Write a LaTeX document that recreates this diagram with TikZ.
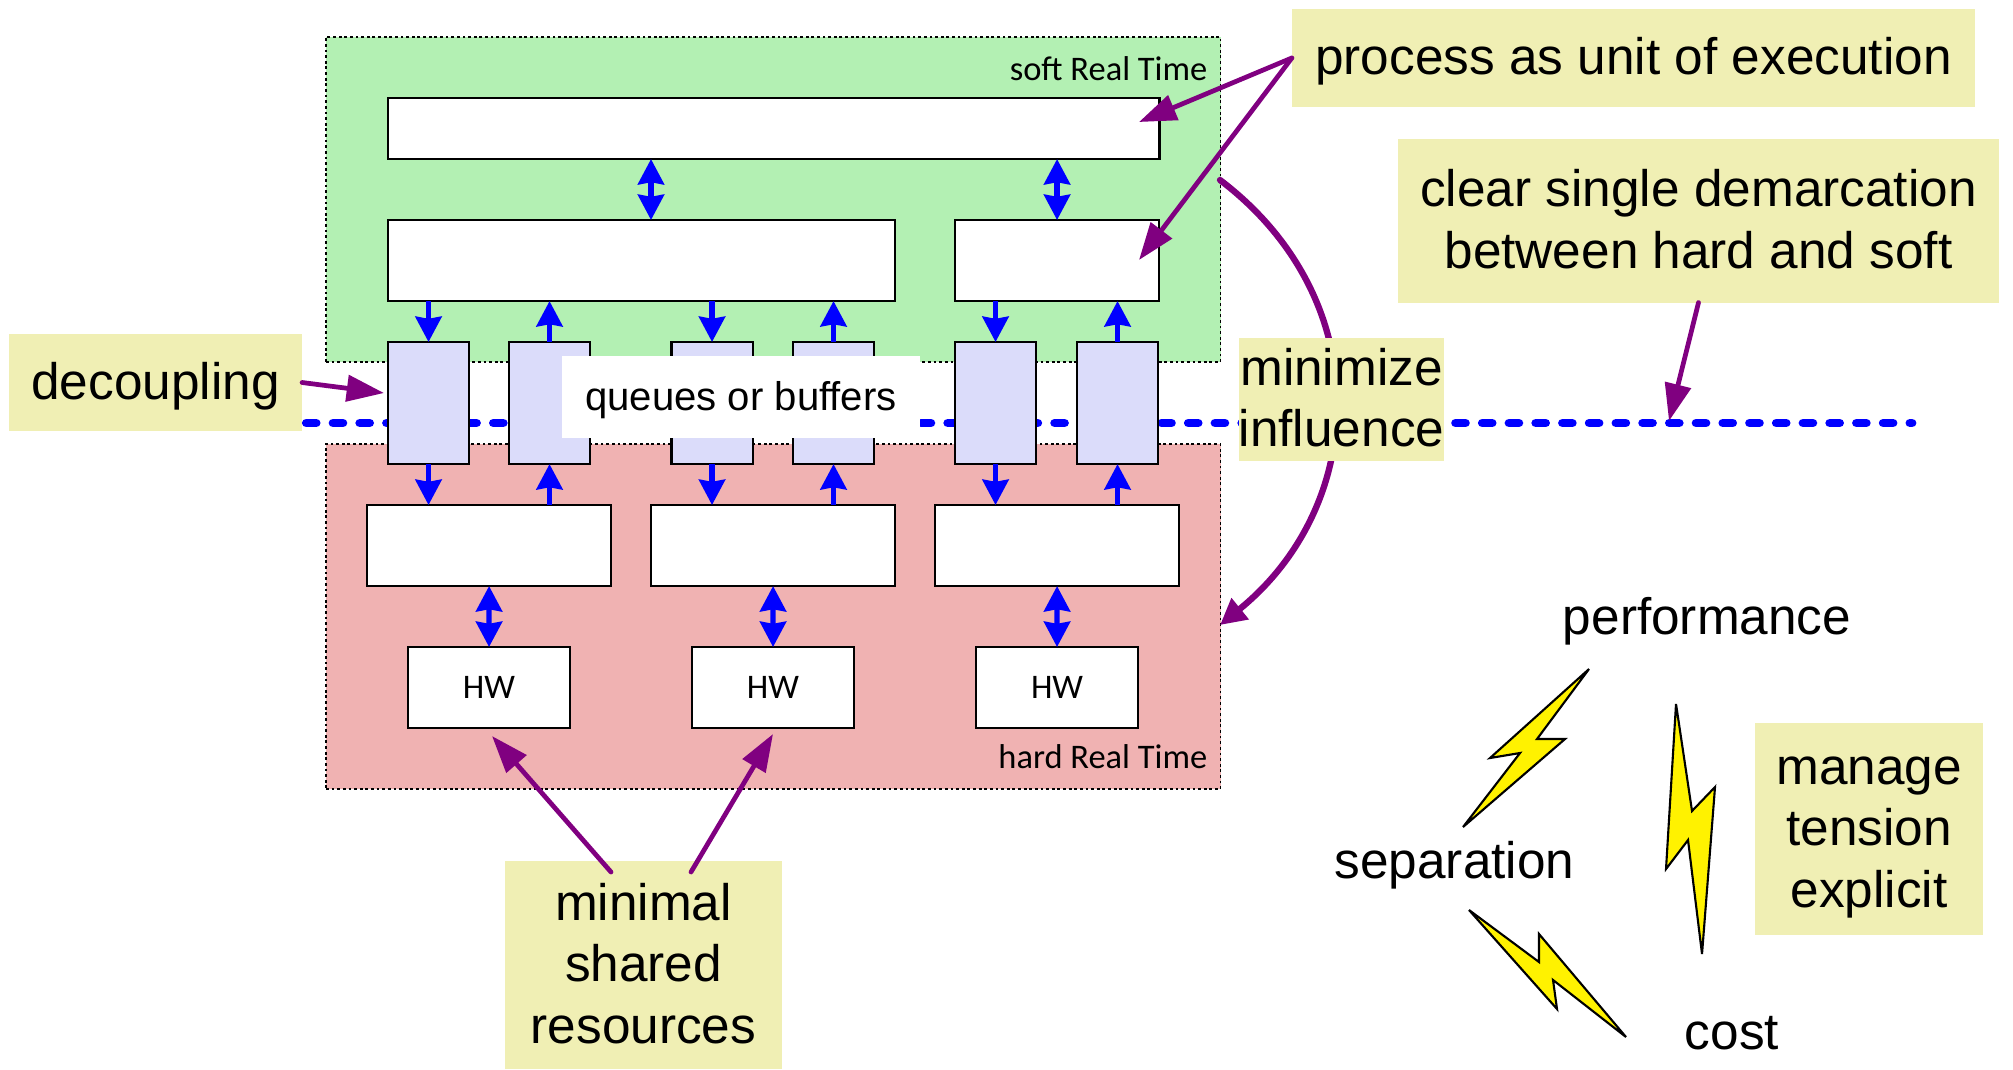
\documentclass[tikz,border=0pt]{standalone}
\usepackage{fontspec}
\setmainfont{Liberation Sans}
\newfontfamily\boxfont{Carlito}
\usetikzlibrary{arrows.meta}

\definecolor{softgreen}{HTML}{B3F0B3}
\definecolor{hardred}{HTML}{F0B2B2}
\definecolor{queueblue}{HTML}{DBDCFA}
\definecolor{notekhaki}{HTML}{F0EFB4}
\definecolor{notepurple}{HTML}{800080}

\newcommand{\notestrut}{\rule[-4pt]{0pt}{17.5pt}}

\tikzset{
    zone/.style={draw=black, line width=0.45pt, dash pattern=on 0.8pt off 0.8pt, anchor=north west, inner sep=0pt, outer sep=0pt},
    procbox/.style={draw=black, line width=0.6pt, fill=white, anchor=north west, inner sep=0pt, outer sep=0pt, font=\boxfont\fontsize{9.8}{11}\selectfont},
    queuebox/.style={draw=black, line width=0.6pt, fill=queueblue, anchor=north west, inner sep=0pt, outer sep=0pt, minimum width=0.81cm, minimum height=1.22cm},
    note/.style={fill=notekhaki, inner sep=0pt, outer sep=0pt, align=center, font=\fontsize{14.6}{17.5}\selectfont},
    term/.style={inner sep=0pt, font=\fontsize{14.6}{17.5}\selectfont},
    zonelabel/.style={inner sep=0pt, anchor=east, font=\boxfont\fontsize{9.8}{11}\selectfont},
    dataflow/.style={blue, line width=1.5pt, >={Stealth[length=7.2pt,width=7.4pt,inset=0.6pt]}},
    notearrow/.style={notepurple, line width=1.35pt, line cap=round, -{Triangle[length=10.6pt,width=7.4pt]}},
    bolt/.style={draw=black, line width=0.6pt, fill=yellow, miter limit=4},
}

\begin{document}
\begin{tikzpicture}[x=0.01cm, y=-0.01cm]
    \useasboundingbox (0,0) rectangle (2013,1069);

    \node[zone, fill=softgreen, minimum width=8.94cm, minimum height=3.25cm] (soft) at (326,37) {};
    \node[zone, fill=hardred, minimum width=8.94cm, minimum height=3.45cm] (hard) at (326,444) {};
    \node[zonelabel] (softlabel) at (1208,69) {soft Real Time};
    \node[zonelabel] (hardlabel) at (1208,757) {hard Real Time};

    \node[note, minimum width=2.93cm, minimum height=0.97cm] (decoupling) at (155.5,382.5) {\notestrut decoupling};
    \coordinate (lineEnd) at (1912,423);
    \draw[blue, line width=2.5pt, line cap=round, dash pattern=on 2.8pt off 4.8pt, shorten <=1.2pt] (decoupling.east |- lineEnd) -- (lineEnd);

    \node[procbox, minimum width=7.71cm, minimum height=0.61cm] (topbar) at (388,98) {};
    \node[procbox, minimum width=5.07cm, minimum height=0.81cm] (midleft) at (388,220) {};
    \node[procbox, minimum width=2.04cm, minimum height=0.81cm] (midright) at (955,220) {};

    \foreach \name/\xpos in {q1/388, q2/509, q3/671.5, q4/793, q5/955, q6/1077}
        \node[queuebox] (\name) at (\xpos,342) {};

    \foreach \name/\xpos in {low1/367, low2/651, low3/935}
        \node[procbox, minimum width=2.44cm, minimum height=0.81cm] (\name) at (\xpos,505) {};
    \foreach \name/\xpos in {hw1/408, hw2/692, hw3/976}
        \node[procbox, minimum width=1.62cm, minimum height=0.81cm] (\name) at (\xpos,647) {HW};

    \node[fill=white, inner sep=0pt, minimum width=3.58cm, minimum height=0.82cm, font=\fontsize{11.4}{13}\selectfont] (queues) at (741,397) {\rule[-2.8pt]{0pt}{13pt}queues or buffers};

    \foreach \q/\u/\l in {q1/midleft/low1, q3/midleft/low2, q5/midright/low3}
        \draw[dataflow, ->] (\u.south -| \q.south) -- (\q.north);
    \foreach \q/\u/\l in {q1/midleft/low1, q3/midleft/low2, q5/midright/low3}
        \draw[dataflow, ->] (\q.south) -- (\l.north -| \q.south);
    \foreach \q/\u/\l in {q2/midleft/low1, q4/midleft/low2, q6/midright/low3}
        \draw[dataflow, ->] (\q.north) -- (\u.south -| \q.north);
    \foreach \q/\u/\l in {q2/midleft/low1, q4/midleft/low2, q6/midright/low3}
        \draw[dataflow, ->] (\l.north -| \q.south) -- (\q.south);

    \coordinate (midleftPort) at (651,220);
    \draw[dataflow, <->] (topbar.south -| midleftPort) -- (midleftPort);
    \draw[dataflow, <->] (topbar.south -| midright.south) -- (midright.north);
    \draw[dataflow, <->] (low1.south) -- (hw1.north);
    \draw[dataflow, <->] (low2.south) -- (hw2.north);
    \draw[dataflow, <->] (low3.south) -- (hw3.north);

    \coordinate (softExit) at (1220,180);
    \coordinate (hardEntry) at (1220,625);
    \draw[notepurple, line width=1.8pt, line cap=round, -{Triangle[length=7.4pt,width=7.4pt]}] (softExit) .. controls (1378,300) and (1368,505) .. (hardEntry);

    \node[note, minimum width=6.83cm, minimum height=0.98cm] (process) at (1633.5,58) {\notestrut process as unit of execution};
    \node[note, minimum width=6.01cm, minimum height=1.63cm] (clear) at (1698.5,221) {\notestrut clear single demarcation\\\notestrut between hard and soft};
    \node[note, minimum width=2.05cm, minimum height=1.23cm] (minimize) at (1341.5,399.5) {\notestrut minimize\\\notestrut influence};
    \node[note, minimum width=2.77cm, minimum height=2.08cm] (minimal) at (643.5,965) {\notestrut minimal\\\notestrut shared\\\notestrut resources};
    \node[note, minimum width=2.28cm, minimum height=2.12cm] (manage) at (1869,829) {\notestrut manage\\\notestrut tension\\\notestrut explicit};

    \node[term] (performance) at (1707,618) {\notestrut performance};
    \node[term] (separation) at (1454.5,862) {\notestrut separation};
    \node[term] (cost) at (1732,1033) {\notestrut cost};

    \draw[bolt] (1589,669) -- (1537,739) -- (1565,739) -- (1463,827) -- (1520,753) -- (1490,758) -- cycle;
    \draw[bolt] (1676,704) -- (1692,811) -- (1715,787) -- (1702,954) -- (1688,840) -- (1666,869) -- cycle;
    \draw[bolt] (1469,910) -- (1539,962) -- (1539,934) -- (1626,1037) -- (1553,980) -- (1557,1009) -- cycle;

    \coordinate (topbarTip) at (1139,122);
    \coordinate (midrightTip) at (1139,260);
    \coordinate (queueTip) at (384,393);
    \coordinate (lineTip) at (1669,421);
    \coordinate (hwTipA) at (492,736);
    \coordinate (hwTipB) at (773,734);
    \coordinate (minimalA) at (611,872);
    \coordinate (minimalB) at (691,872);

    \draw[notearrow] (process.west) -- (topbarTip);
    \draw[notearrow] (process.west) -- (midrightTip);
    \draw[notearrow] (decoupling.east) -- (queueTip);
    \draw[notearrow] (clear.south) -- (lineTip);
    \draw[notearrow] (minimalA) -- (hwTipA);
    \draw[notearrow] (minimalB) -- (hwTipB);
\end{tikzpicture}
\end{document}
